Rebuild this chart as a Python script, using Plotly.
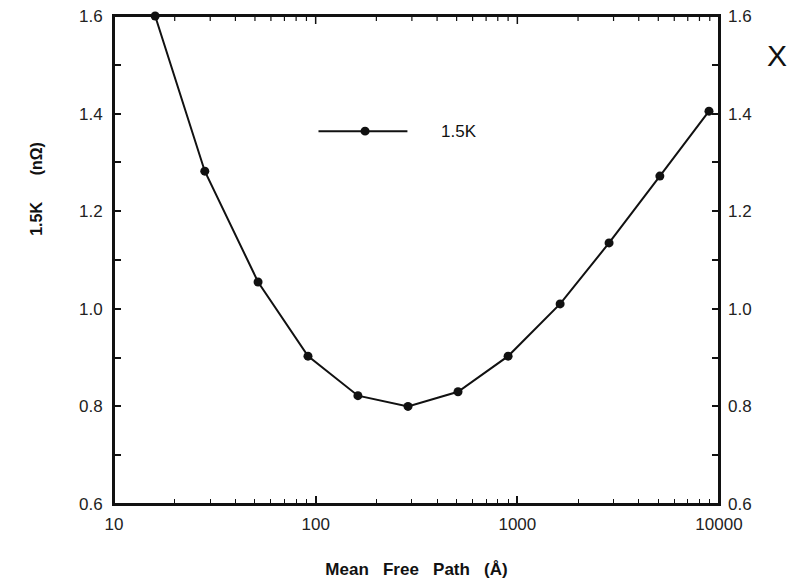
import math
import plotly.graph_objects as go

# Data
mean_free_path = [16, 28.2, 51.8, 91.6, 162, 287, 508, 900, 1630, 2850, 5090, 8920]
resistance_1p5K = [1.60, 1.282, 1.055, 0.903, 0.822, 0.800, 0.830, 0.903, 1.010, 1.135, 1.272, 1.405]
y_ticks = [0.6, 0.8, 1.0, 1.2, 1.4, 1.6]
y_ticklabels = ["0.6", "0.8", "1.0", "1.2", "1.4", "1.6"]
y_minor = [0.7, 0.9, 1.1, 1.3, 1.5]
x_ticks = [10, 100, 1000, 10000]
x_ticklabels = ["10", "100", "1000", "10000"]
x_minor = [m * d for d in (10, 100, 1000) for m in range(2, 10)]
X_LOG_RANGE = [1, 4]
Y_RANGE = [0.6, 1.6]

FONT = "Liberation Sans, Arial, Helvetica, sans-serif"
INK = "#111111"
PLOT_H = 587 - 16 - 83

fig = go.Figure()
fig.add_trace(go.Scatter(
    x=mean_free_path, y=resistance_1p5K, mode="lines+markers", name="1.5K",
    line=dict(color=INK, width=2), marker=dict(color=INK, size=9, symbol="circle"),
    showlegend=False, cliponaxis=False,
))
# invisible trace to activate the right y axis
fig.add_trace(go.Scatter(x=mean_free_path, y=resistance_1p5K, yaxis="y2",
                         mode="markers", marker=dict(opacity=0), showlegend=False,
                         hoverinfo="skip"))

tickfont = dict(family=FONT, size=17, color="#222222")
axis_common = dict(showgrid=False, zeroline=False, linecolor=INK, linewidth=2,
                   ticks="inside", tickcolor=INK, tickwidth=1.5, tickfont=tickfont,
                   automargin=False)
x_minor_cfg = dict(ticks="inside", ticklen=5, tickcolor=INK, tickwidth=1.2,
                   tickmode="array", tickvals=x_minor, showgrid=False)

fig.update_layout(
    width=796, height=587,
    paper_bgcolor="white", plot_bgcolor="white",
    margin=dict(l=114, r=77, t=16, b=83),
    xaxis=dict(type="log", range=X_LOG_RANGE, tickvals=x_ticks, ticktext=x_ticklabels,
               mirror=True, showline=True, ticklen=8, ticklabelstandoff=4,
               minor=x_minor_cfg,
               title=dict(text="<b>Mean   Free   Path   (Å)</b>",
                          font=dict(family=FONT, size=17, color=INK), standoff=30),
               **axis_common),
    yaxis=dict(range=Y_RANGE, tickvals=y_ticks, ticktext=y_ticklabels,
               mirror="allticks", showline=True, ticklen=7, ticklabelstandoff=6,
               minor=dict(ticks="inside", ticklen=7, tickmode="array", tickvals=y_minor,
                          tickcolor=INK, tickwidth=1.5, showgrid=False),
               **axis_common),
    yaxis2=dict(range=Y_RANGE, tickvals=y_ticks, ticktext=y_ticklabels,
                overlaying="y", side="right", anchor="x", showline=False, showgrid=False,
                zeroline=False, ticks="", tickfont=tickfont, ticklabelstandoff=8,
                automargin=False),
    showlegend=False,
)


def x_frac(v):
    return (math.log10(v) - X_LOG_RANGE[0]) / (X_LOG_RANGE[1] - X_LOG_RANGE[0])


# Mirrored x ticks along the top edge, pointing inward
for v in x_ticks:
    fig.add_shape(type="line", xref="x domain", yref="y domain", x0=x_frac(v), x1=x_frac(v),
                  y0=1, y1=1 - 8 / PLOT_H, line=dict(color=INK, width=1.5), layer="above")
for v in x_minor:
    fig.add_shape(type="line", xref="x domain", yref="y domain", x0=x_frac(v), x1=x_frac(v),
                  y0=1, y1=1 - 5 / PLOT_H, line=dict(color=INK, width=1.2), layer="above")

# Plot frame
fig.add_shape(type="rect", xref="x domain", yref="y domain", x0=0, x1=1, y0=0, y1=1,
              line=dict(color=INK, width=2), fillcolor="rgba(0,0,0,0)", layer="above")

# Legend drawn as a sample line + marker + label
leg_y = 0.764
fig.add_shape(type="line", xref="paper", yref="paper", x0=0.338, x1=0.485, y0=leg_y, y1=leg_y,
              line=dict(color=INK, width=2))
fig.add_shape(type="circle", xref="paper", yref="paper", x0=0.415 - 0.0075, x1=0.415 + 0.0075,
              y0=leg_y - 0.009, y1=leg_y + 0.009, fillcolor=INK, line=dict(color=INK, width=0))
fig.add_annotation(xref="paper", yref="paper", x=0.538, y=leg_y, text="1.5K", showarrow=False,
                   xanchor="left", yanchor="middle",
                   font=dict(family=FONT, size=17, color=INK))

# Y axis title
fig.add_annotation(xref="paper", yref="paper", x=-0.128, y=0.645,
                   text="<b>1.5K      (nΩ)</b>",
                   textangle=-90, showarrow=False, xanchor="center", yanchor="middle",
                   font=dict(family=FONT, size=16, color=INK))
# "X" label on the right
fig.add_annotation(xref="paper", yref="paper", x=1.096, y=0.92, text="X", showarrow=False,
                   xanchor="center", yanchor="middle",
                   font=dict(family=FONT, size=30, color=INK))

fig.write_html("out.html", config={"displayModeBar": False},
               post_script="document.body.style.margin='0px';")
